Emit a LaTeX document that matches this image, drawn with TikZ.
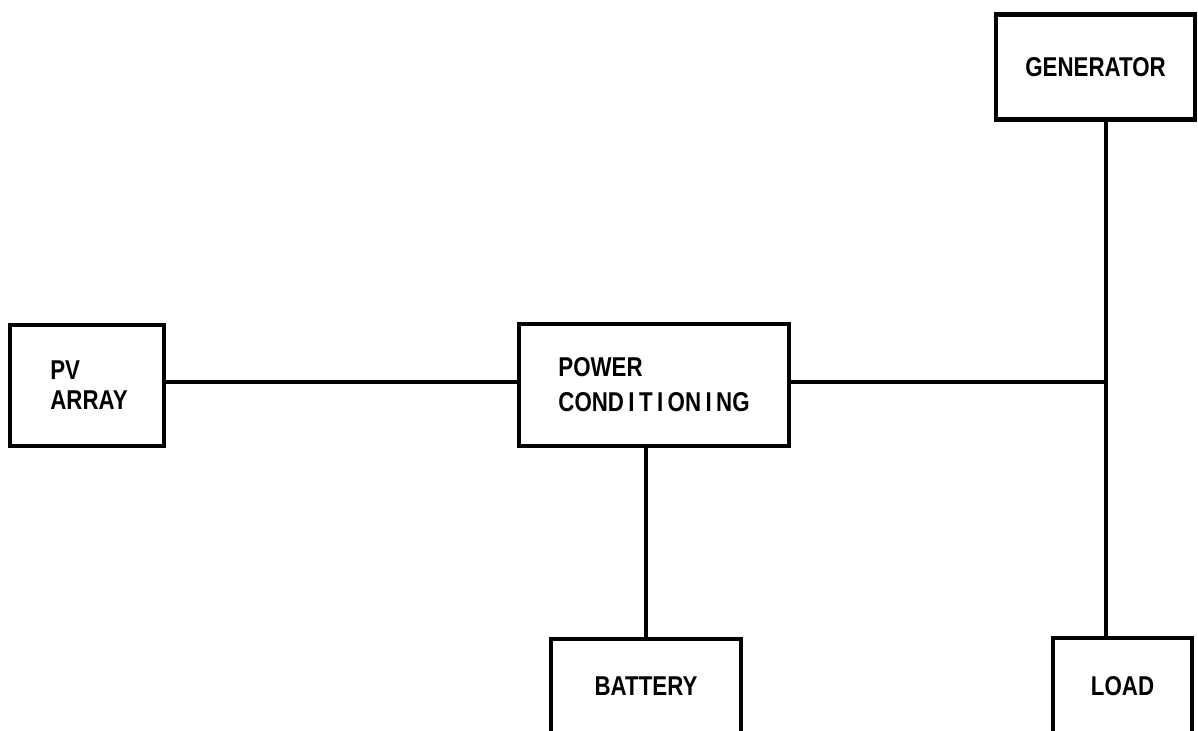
\documentclass[tikz,border=0pt]{standalone}
\usepackage{fontspec}
\newfontfamily\labfont{Liberation Sans}[FakeStretch=0.82]
\begin{document}
\begin{tikzpicture}[x=0.5pt,y=-0.5pt,
  blockbox/.style={draw=black,line width=2.4pt,fill=white,inner sep=0pt,
    font=\labfont\bfseries\fontsize{13.6}{15}\selectfont},
  wire/.style={draw=black,line width=1.9pt}]
\clip (0,0) rectangle (1198,731);
\fill[white] (0,0) rectangle (1198,731);
% blocks
\node[blockbox,minimum width=77pt,minimum height=60.5pt,align=left] (pv) at (87,385.5) {\hspace*{2pt}PV\\\hspace*{2pt}ARRAY};
\node[blockbox,minimum width=135pt,minimum height=61pt,align=left] (pc) at (654,385) {POWER\\[2.5pt]COND\kern2.2pt I\kern2.2pt T\kern2.2pt I\kern2.2pt ON\kern2.2pt I\kern2.2pt NG};
\node[blockbox,minimum width=99.5pt,minimum height=52.5pt] (gen) at (1095.5,67) {GENERATOR};
\node[blockbox,minimum width=95pt,minimum height=47pt] (bat) at (646,686) {BATTERY};
\node[blockbox,minimum width=69.5pt,minimum height=48pt] (load) at (1122.5,686) {LOAD};
\coordinate (bus) at (1106,382);
% connectors
\draw[wire] (pv.east |- bus) -- (pc.west |- bus);
\draw[wire] (pc.east |- bus) -- (bus);
\draw[wire] (gen.south -| bus) -- (load.north -| bus);
\draw[wire] (pc.south -| bat.north) -- (bat.north);
\end{tikzpicture}
\end{document}
